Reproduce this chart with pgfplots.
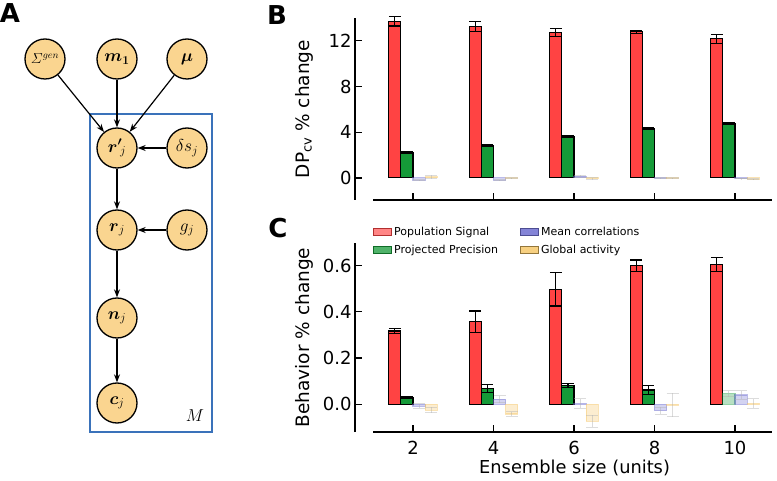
\documentclass[border=0pt]{standalone}
\usepackage{fontspec}
\setmainfont{DejaVu Sans}
\usepackage{amsmath}
\usepackage{pgfplots}
\pgfplotsset{compat=1.18}
\usepackage{pgfplotstable}
\usetikzlibrary{arrows.meta}

\definecolor{cred}{HTML}{FF4343}
\definecolor{cgreen}{HTML}{159A38}
\definecolor{cblue}{HTML}{6E6ED0}
\definecolor{cyellow}{HTML}{F5C462}
\definecolor{nodefill}{HTML}{FAD590}
\definecolor{boxblue}{HTML}{3A72BA}

% panel B data: x, y, err
\pgfplotstableread{
x y e
1.55 13.70 0.40
3.55 13.25 0.45
5.55 12.73 0.35
7.55 12.78 0.12
9.55 12.17 0.38
}\BRed
\pgfplotstableread{
x y e
1.85 2.25 0.08
3.85 2.83 0.08
5.85 3.62 0.08
7.85 4.35 0.06
9.85 4.78 0.06
}\BGreen
\pgfplotstableread{
x y e
2.15 -0.20 0.05
4.15 -0.20 0.05
6.15 0.15 0.08
8.15 -0.02 0.03
10.15 -0.05 0.03
}\BBlue
\pgfplotstableread{
x y e
2.45 0.08 0.15
4.45 -0.02 0.05
6.45 -0.05 0.05
8.45 -0.03 0.03
10.45 -0.10 0.05
}\BYellow
% panel C data
\pgfplotstableread{
x y e
1.55 0.317 0.012
3.55 0.358 0.046
5.55 0.498 0.073
7.55 0.599 0.025
9.55 0.605 0.030
}\CRed
\pgfplotstableread{
x y e
1.85 0.029 0.003
3.85 0.068 0.017
5.85 0.081 0.010
7.85 0.062 0.018
}\CGreen
\pgfplotstableread{
x y e
9.85 0.046 0.013
}\CGreenF
\pgfplotstableread{
x y e
2.15 -0.008 0.010
4.15 0.022 0.015
6.15 0.003 0.020
8.15 -0.028 0.015
10.15 0.040 0.018
}\CBlue
\pgfplotstableread{
x y e
2.45 -0.025 0.012
4.45 -0.042 0.010
6.45 -0.073 0.026
8.45 -0.003 0.050
10.45 0.003 0.020
}\CYellow

\pgfplotsset{
  panel/.style={
    scale only axis, width=417pt,
    xmin=0.559, xmax=10.92,
    axis x line*=bottom, axis y line*=left,
    axis line style={line width=1.4pt, black},
    x axis line style={shorten <=18pt},
    tick align=inside, major tick length=7pt,
    tick style={line width=1.2pt, black},
    xtick={2,4,6,8,10},
    ticklabel style={font=\fontsize{18}{21}\selectfont},
    xticklabel style={yshift=-6pt},
    /pgf/number format/assume math mode=true,
    clip=false,
    every axis y label/.style={at={(rel axis cs:0,0.5)}, xshift=-51pt, rotate=90, anchor=center, font=\fontsize{18.5}{22}\selectfont},
  },
  solidbar/.style={ybar, bar width=0.3, bar shift=0pt, fill=#1, draw=black, line width=1.1pt,
    /pgfplots/error bars/y dir=both, /pgfplots/error bars/y explicit,
    /pgfplots/error bars/error bar style={line width=1.2pt, black},
    /pgfplots/error bars/error mark options={rotate=90, line width=1.2pt, black, mark size=6pt}},
  fadebar/.style={ybar, bar width=0.3, bar shift=0pt, fill=#1, fill opacity=0.3, draw=#1, draw opacity=0.45, line width=1.1pt,
    /pgfplots/error bars/y dir=both, /pgfplots/error bars/y explicit,
    /pgfplots/error bars/error bar style={line width=1.0pt, black!30},
    /pgfplots/error bars/error mark options={rotate=90, line width=1.0pt, black!30, mark size=6pt}},
}

\begin{document}
\begin{tikzpicture}[x=1pt,y=1pt]
\useasboundingbox (0,0) rectangle (777,480);

% ---------- Panel A ----------
\node[font=\fontsize{26}{28}\selectfont\bfseries] at (10,467) {A};
\begin{scope}[every node/.style={circle, draw=black, line width=1.3pt, fill=nodefill, minimum size=40pt, inner sep=0pt, font=\fontsize{16.5}{18}\selectfont}]
\node (S)  at (45,421)  {\fontsize{14.5}{16}\selectfont$\varSigma^{gen}$};
\node (m)  at (117,421) {$\boldsymbol{m_1}$};
\node (mu) at (187,421) {$\boldsymbol{\mu}$};
\node (rp) at (117,332) {$\boldsymbol{r'}_{\!j}$};
\node (ds) at (187,332) {$\delta s_j$};
\node (r)  at (117,250) {$\boldsymbol{r}_j$};
\node (g)  at (187,250) {$g_j$};
\node (n)  at (117,162) {$\boldsymbol{n}_j$};
\node (c)  at (117,77)  {$\boldsymbol{c}_j$};
\end{scope}
\draw[boxblue, line width=2.2pt] (90,48) rectangle (212,366);
\node[font=\fontsize{16}{18}\selectfont] at (195,64) {$M$};
\begin{scope}[line width=1.2pt, -{Stealth[length=8pt,width=6pt]}]
\draw (S) -- (rp);
\draw (m) -- (rp);
\draw (mu) -- (rp);
\draw (ds) -- (rp);
\draw (rp) -- (r);
\draw (g) -- (r);
\draw (r) -- (n);
\draw (n) -- (c);
\end{scope}

% ---------- Panel B ----------
\node[font=\fontsize{26}{28}\selectfont\bfseries] at (277,465) {B};
\begin{axis}[panel, at={(355pt,280pt)}, anchor=south west, height=182pt,
  ymin=-1.93, ymax=14.0, ytick={0,4,8,12}, xticklabels={},
  ylabel={DP\textsubscript{cv} \% change}]
\addplot[solidbar=cred] table[x=x,y=y,y error=e] {\BRed};
\addplot[solidbar=cgreen] table[x=x,y=y,y error=e] {\BGreen};
\addplot[fadebar=cblue] table[x=x,y=y,y error=e] {\BBlue};
\addplot[fadebar=cyellow] table[x=x,y=y,y error=e] {\BYellow};
\end{axis}

% ---------- Panel C ----------
\node[font=\fontsize{26}{28}\selectfont\bfseries] at (278,251.5) {C};
\begin{axis}[panel, at={(355pt,48pt)}, anchor=south west, height=189pt,
  ymin=-0.12, ymax=0.698, ytick={0,0.2,0.4,0.6},
  yticklabel style={/pgf/number format/.cd, fixed, fixed zerofill, precision=1},
  xticklabels={2,4,6,8,10},
  xlabel={Ensemble size (units)},
  xlabel style={at={(rel axis cs:0,0)}, anchor=base west, xshift=124pt, yshift=-41pt, inner sep=0pt, font=\fontsize{17.8}{21}\selectfont},
  ylabel={Behavior \% change},
  legend columns=2,
  legend cell align=left,
  legend image code/.code={\draw[#1] (0pt,-3.5pt) rectangle (18pt,3.5pt);},
  legend style={at={(rel axis cs:0,1)}, anchor=north west, xshift=18pt, yshift=18pt, draw=none, fill=none,
    inner sep=0pt, font=\fontsize{11}{13}\selectfont, row sep=4pt,
    /tikz/every even column/.append style={column sep=20pt}},
  ]
\addlegendimage{fill=cred, fill opacity=0.65, draw=cred!70!black, line width=1pt}
\addlegendentry{Population Signal}
\addlegendimage{fill=cblue, fill opacity=0.85, draw=cblue!70!black, line width=1pt}
\addlegendentry{Mean correlations}
\addlegendimage{fill=cgreen, fill opacity=0.75, draw=cgreen!70!black, line width=1pt}
\addlegendentry{Projected Precision}
\addlegendimage{fill=cyellow, fill opacity=0.8, draw=cyellow!60!black, line width=1pt}
\addlegendentry{Global activity}
\addplot[forget plot, solidbar=cred] table[x=x,y=y,y error=e] {\CRed};
\addplot[forget plot, solidbar=cgreen] table[x=x,y=y,y error=e] {\CGreen};
\addplot[forget plot, fadebar=cgreen] table[x=x,y=y,y error=e] {\CGreenF};
\addplot[forget plot, fadebar=cblue] table[x=x,y=y,y error=e] {\CBlue};
\addplot[forget plot, fadebar=cyellow] table[x=x,y=y,y error=e] {\CYellow};
\end{axis}
\end{tikzpicture}
\end{document}
